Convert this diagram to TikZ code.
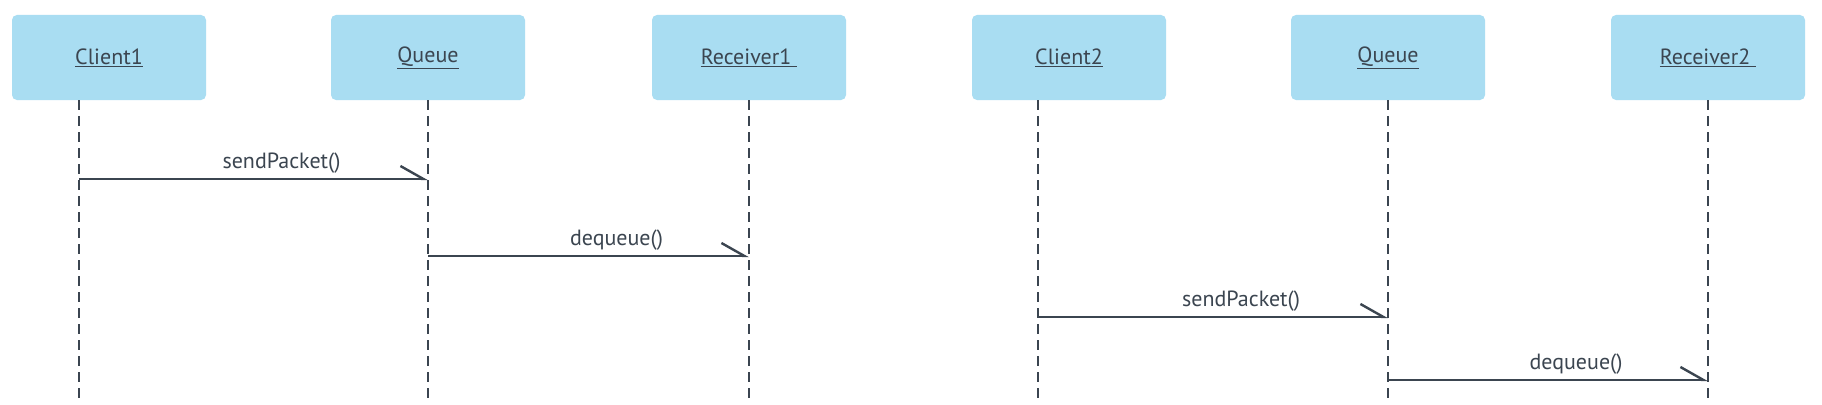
\documentclass[tikz,border=0pt]{standalone}
\usepackage{fontspec}
\setmainfont{PT Sans}
\usepackage{tikz}
\usetikzlibrary{arrows.meta}
\definecolor{boxblue}{HTML}{A9DDF2}
\definecolor{ink}{HTML}{3B4550}

\begin{document}
\begin{tikzpicture}[x=1pt,y=-1pt,
  obj/.style={fill=boxblue,rounded corners=5pt,minimum width=194pt,minimum height=85pt,text=ink,font=\fontsize{22}{26}\selectfont},
  lifeline/.style={draw=ink,line width=2pt,dash pattern=on 10pt off 6pt},
  msg/.style={draw=ink,line width=2.4pt,-{Straight Barb[harpoon,left,length=23pt,width=26pt,line width=2.4pt]}},
  lbl/.style={above,text=ink,font=\fontsize{22}{26}\selectfont,xshift=28pt,inner sep=4pt}]
\useasboundingbox[fill=white] (0,0) rectangle (1822,404);
\node[obj] (c1) at (109,57.5) {\underline{Client1}};
\node[obj] (q1) at (428,57.5) {\underline{Queue}};
\node[obj] (r1) at (749,57.5) {\underline{Receiver1\ }};
\node[obj] (c2) at (1069,57.5) {\underline{Client2}};
\node[obj] (q2) at (1388,57.5) {\underline{Queue}};
\node[obj] (r2) at (1708,57.5) {\underline{Receiver2\ }};
\foreach \n/\x in {c1/79,q1/428,r1/749,c2/1038,q2/1388,r2/1708} {
  \coordinate (\n top) at (\x,100);
  \coordinate (\n bot) at (\x,404);
  \draw[lifeline] (\n top) -- (\n bot);
}
\draw[msg] (c1top |- 0,179) -- node[lbl] {sendPacket()} (q1top |- 0,179);
\draw[msg] (q1top |- 0,256) -- node[lbl] {dequeue()} (r1top |- 0,256);
\draw[msg] (c2top |- 0,317) -- node[lbl] {sendPacket()} (q2top |- 0,317);
\draw[msg] (q2top |- 0,380) -- node[lbl] {dequeue()} (r2top |- 0,380);
\end{tikzpicture}
\end{document}
